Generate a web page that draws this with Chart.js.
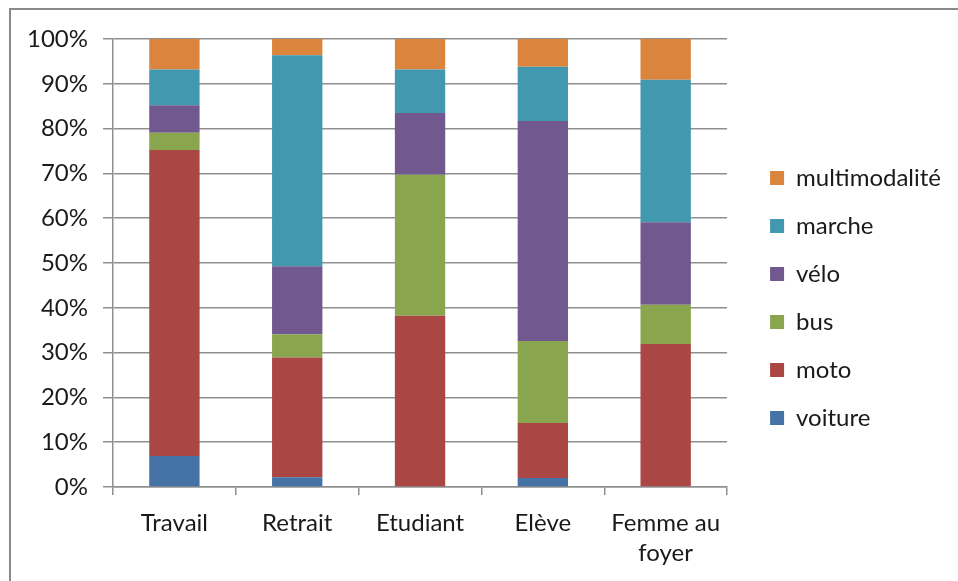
<!DOCTYPE html>
<html>
<head>
<meta charset="utf-8">
<script src="https://cdn.jsdelivr.net/npm/chart.js@4"></script>
<style>
  body { margin: 0; background: #fff; }
  #wrap { position: relative; width: 958px; height: 581px; }
  #frame { position: absolute; left: 9px; top: 8px; right: 0; bottom: 0;
           border-top: 2px solid #8a8a8a; border-left: 2px solid #8a8a8a; pointer-events: none; }
</style>
</head>
<body>
<div id="wrap">
  <canvas id="myChart"></canvas>
  <div id="frame"></div>
</div>
<script>
// categories
const categories = ['Travail', 'Retrait', 'Etudiant', 'Elève', ['Femme au', 'foyer']];
// series, % of trips
const voiture = [6.9, 2.2, 0, 2.0, 0];
const moto = [68.3, 26.7, 38.2, 12.3, 31.9];
const bus = [3.9, 5.2, 31.5, 18.3, 8.8];
const velo = [6.1, 15.2, 13.8, 49.1, 18.4];
const marche = [8.0, 47.1, 9.7, 12.1, 31.8];
const multimodalite = [6.8, 3.6, 6.8, 6.2, 9.1];
const yTicks = [0, 10, 20, 30, 40, 50, 60, 70, 80, 90, 100];

Chart.defaults.font.family = 'Lato';
Chart.defaults.font.size = 24;
Chart.defaults.color = '#1a1a1a';

const gridColor = '#8f8f8f';

function ds(label, data, color) {
  return { label: label, data: data, backgroundColor: color, borderWidth: 0,
           barPercentage: 0.41, categoryPercentage: 1 };
}

// nudge the legend a bit to the right and up, like the original
const legendNudge = {
  id: 'legendNudge',
  afterLayout: function (chart) {
    const lg = chart.legend;
    lg.left += 19; lg.right += 19;
    lg.top -= 12; lg.bottom -= 12;
  }
};

const myChart = new Chart(document.getElementById('myChart'), {
  type: 'bar',
  data: {
    labels: categories,
    datasets: [
      ds('voiture', voiture, '#4572A7'),
      ds('moto', moto, '#AA4643'),
      ds('bus', bus, '#89A54E'),
      ds('vélo', velo, '#71588F'),
      ds('marche', marche, '#4198AF'),
      ds('multimodalité', multimodalite, '#DB843D')
    ]
  },
  options: {
    responsive: true,
    maintainAspectRatio: false,
    animation: false,
    layout: { padding: { top: 39, left: 0, right: 26, bottom: 0 } },
    scales: {
      x: {
        stacked: true,
        afterFit: function (s) { s.height = 94; },
        grid: { drawOnChartArea: false, drawTicks: true, tickLength: 8, color: gridColor, lineWidth: 1.5 },
        border: { color: gridColor, width: 1.5 },
        ticks: { padding: 13, font: { lineHeight: 1.25 } }
      },
      y: {
        stacked: true,
        min: 0,
        max: 100,
        afterBuildTicks: function (s) { s.ticks = yTicks.map(function (v) { return { value: v }; }); },
        afterFit: function (s) { s.width = 113; },
        grid: { color: gridColor, lineWidth: 1.5, tickLength: 10 },
        border: { color: gridColor, width: 1.5 },
        ticks: { padding: 15, callback: function (v) { return v + '%'; } }
      }
    },
    plugins: {
      title: { display: false },
      tooltip: { enabled: false },
      legend: {
        position: 'right',
        reverse: true,
        labels: { boxWidth: 14, boxHeight: 14, padding: 24 }
      }
    }
  },
  plugins: [legendNudge]
});
</script>
</body>
</html>
